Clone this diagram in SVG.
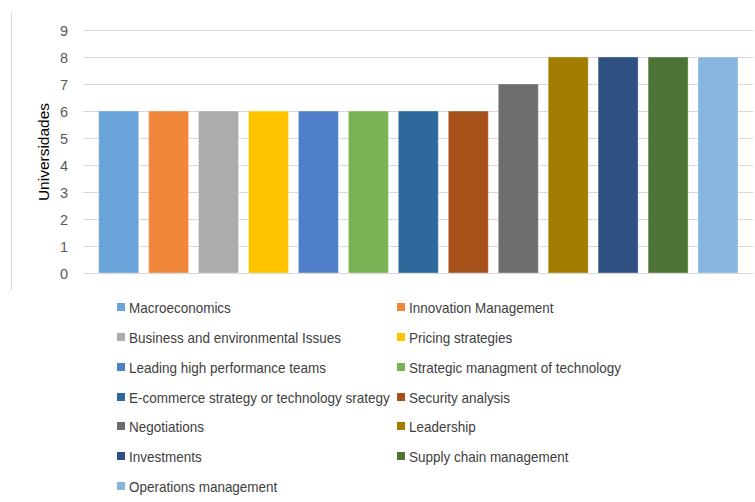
<svg xmlns="http://www.w3.org/2000/svg" width="755" height="502" viewBox="0 0 755 502">
<style>
.grid{stroke:#d9d9d9;stroke-width:1}
.tick{font-family:"Liberation Sans",Arial,sans-serif;font-size:14.5px;fill:#595959;text-anchor:end}
.leg{font-family:"Liberation Sans",Arial,sans-serif;font-size:15px;fill:#404040}
.bar{stroke:#ffffff;stroke-opacity:0.35;stroke-width:1}
</style>
<rect width="755" height="502" fill="#ffffff"/>
<line x1="11.5" y1="12" x2="11.5" y2="290" stroke="#d9d9d9"/>
<g id="grid">
<line class="grid" x1="83" y1="30.5" x2="753" y2="30.5"/>
<line class="grid" x1="83" y1="57.5" x2="753" y2="57.5"/>
<line class="grid" x1="83" y1="84.5" x2="753" y2="84.5"/>
<line class="grid" x1="83" y1="111.5" x2="753" y2="111.5"/>
<line class="grid" x1="83" y1="138.5" x2="753" y2="138.5"/>
<line class="grid" x1="83" y1="165.5" x2="753" y2="165.5"/>
<line class="grid" x1="83" y1="192.5" x2="753" y2="192.5"/>
<line class="grid" x1="83" y1="219.5" x2="753" y2="219.5"/>
<line class="grid" x1="83" y1="246.5" x2="753" y2="246.5"/>
</g>
<g id="yaxis">
<text class="tick" x="68" y="35.5">9</text>
<text class="tick" x="68" y="62.5">8</text>
<text class="tick" x="68" y="89.5">7</text>
<text class="tick" x="68" y="116.5">6</text>
<text class="tick" x="68" y="143.5">5</text>
<text class="tick" x="68" y="170.5">4</text>
<text class="tick" x="68" y="197.5">3</text>
<text class="tick" x="68" y="224.5">2</text>
<text class="tick" x="68" y="251.5">1</text>
<text class="tick" x="68" y="278.5">0</text>
<text x="0" y="0" transform="translate(49,152) rotate(-90)" text-anchor="middle" font-family="Liberation Sans,Arial,sans-serif" font-size="15.5px" fill="#000000">Universidades</text>
</g>
<g id="bars">
<rect class="bar" x="98.7" y="111" width="40" height="162" fill="#68A4DA"/>
<rect class="bar" x="148.6" y="111" width="40" height="162" fill="#F0873A"/>
<rect class="bar" x="198.5" y="111" width="40" height="162" fill="#ACACAC"/>
<rect class="bar" x="248.5" y="111" width="40" height="162" fill="#FFC300"/>
<rect class="bar" x="298.4" y="111" width="40" height="162" fill="#4F7FCB"/>
<rect class="bar" x="348.4" y="111" width="40" height="162" fill="#7AB356"/>
<rect class="bar" x="398.3" y="111" width="40" height="162" fill="#2D6A9B"/>
<rect class="bar" x="448.3" y="111" width="40" height="162" fill="#A65119"/>
<rect class="bar" x="498.3" y="84" width="40" height="189" fill="#6D6D6D"/>
<rect class="bar" x="548.2" y="57" width="40" height="216" fill="#A27D00"/>
<rect class="bar" x="598.1" y="57" width="40" height="216" fill="#2F5083"/>
<rect class="bar" x="648.1" y="57" width="40" height="216" fill="#4E7336"/>
<rect class="bar" x="698" y="57" width="40" height="216" fill="#87B5E0"/>
</g>
<line x1="83" y1="273.5" x2="753" y2="273.5" stroke="#d9d9d9"/>
<g id="legend">
<rect x="117" y="303" width="8" height="8" fill="#68A4DA"/>
<rect x="397" y="303" width="8" height="8" fill="#F0873A"/>
<rect x="117" y="333" width="8" height="8" fill="#ACACAC"/>
<rect x="397" y="333" width="8" height="8" fill="#FFC300"/>
<rect x="117" y="363" width="8" height="8" fill="#4F7FCB"/>
<rect x="397" y="363" width="8" height="8" fill="#7AB356"/>
<rect x="117" y="393" width="8" height="8" fill="#2D6A9B"/>
<rect x="397" y="393" width="8" height="8" fill="#A65119"/>
<rect x="117" y="422" width="8" height="8" fill="#6D6D6D"/>
<rect x="397" y="422" width="8" height="8" fill="#A27D00"/>
<rect x="117" y="452" width="8" height="8" fill="#2F5083"/>
<rect x="397" y="452" width="8" height="8" fill="#4E7336"/>
<rect x="117" y="482" width="8" height="8" fill="#87B5E0"/>
<g transform="scale(0.9 1)">
<text class="leg" x="143.3" y="313.5">Macroeconomics</text>
<text class="leg" x="454.4" y="313.5">Innovation Management</text>
<text class="leg" x="143.3" y="343.5">Business and environmental Issues</text>
<text class="leg" x="454.4" y="343.5">Pricing strategies</text>
<text class="leg" x="143.3" y="373.5">Leading high performance teams</text>
<text class="leg" x="454.4" y="373.5">Strategic managment of technology</text>
<text class="leg" x="143.3" y="403">E-commerce strategy or technology srategy</text>
<text class="leg" x="454.4" y="403">Security analysis</text>
<text class="leg" x="143.3" y="432.5">Negotiations</text>
<text class="leg" x="454.4" y="432.5">Leadership</text>
<text class="leg" x="143.3" y="462">Investments</text>
<text class="leg" x="454.4" y="462">Supply chain management</text>
<text class="leg" x="143.3" y="492">Operations management</text>
</g>
</g>
</svg>
